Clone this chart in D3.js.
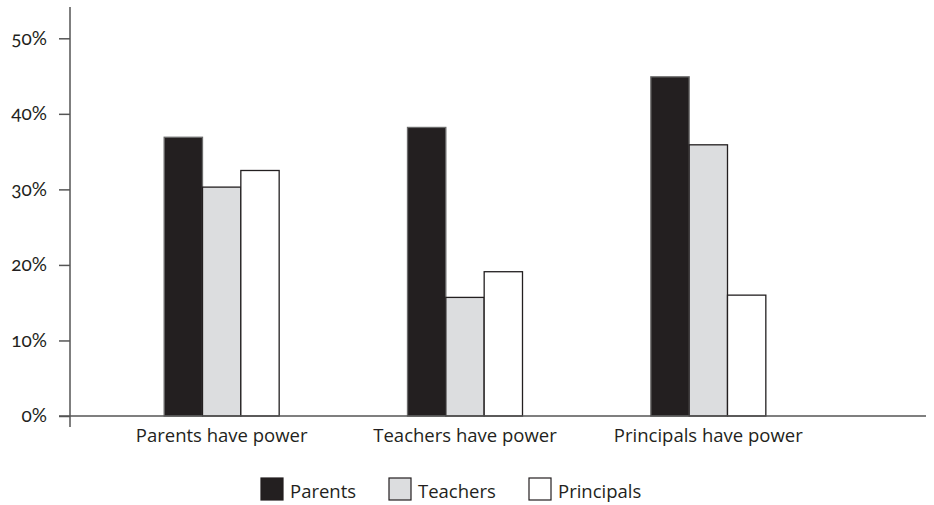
<!DOCTYPE html>
<html>
<head>
<meta charset="utf-8">
<script src="https://cdn.jsdelivr.net/npm/d3@7"></script>
<style>
  html, body { margin: 0; padding: 0; background: #ffffff; }
  svg { display: block; }
  .tick-label { font-family: Lato, "Noto Sans", sans-serif; font-variant-numeric: oldstyle-nums; font-feature-settings: "onum" 1; }
  .cat-label, .legend-label { font-family: "Open Sans", "Noto Sans", sans-serif; }
</style>
</head>
<body>
<svg id="chart" width="934" height="505"></svg>
<script>
const categories = ["Parents have power", "Teachers have power", "Principals have power"];
const seriesNames = ["Parents", "Teachers", "Principals"];
const parentsValues = [36.9, 38.2, 44.9];
const teachersValues = [30.3, 15.7, 35.9];
const principalsValues = [32.5, 19.1, 16.0];
const yTicks = [0, 10, 20, 30, 40, 50];
const seriesColors = ["#231f20", "#dcdddf", "#ffffff"];

const seriesValues = [parentsValues, teachersValues, principalsValues];
const data = categories.map((c, i) => ({
  category: c,
  values: seriesNames.map((s, j) => ({ series: s, value: seriesValues[j][i] }))
}));

const svg = d3.select("#chart");
const axisColor = "#555555";

const x = d3.scaleBand().domain(categories).range([100, 830]);
const groupWidth = 115;
const xInner = d3.scaleBand().domain(seriesNames).range([0, groupWidth]);
const y = d3.scaleLinear().domain([0, 50]).range([416, 38.3]);
const color = d3.scaleOrdinal().domain(seriesNames).range(seriesColors);

// bars
const groups = svg.append("g").selectAll("g")
  .data(data).join("g")
  .attr("transform", d => `translate(${x(d.category) + x.bandwidth() / 2 - groupWidth / 2},0)`);

groups.selectAll("rect")
  .data(d => d.values).join("rect")
  .attr("x", d => xInner(d.series))
  .attr("y", d => y(d.value))
  .attr("width", xInner.bandwidth())
  .attr("height", d => y(0) - y(d.value))
  .attr("fill", d => color(d.series))
  .attr("stroke", d => d.series === "Parents" ? "#6b6b6b" : "#231f20")
  .attr("stroke-width", 1.3);

// y axis
const yAxis = d3.axisLeft(y).tickValues(yTicks).tickFormat(d => d + "%").tickSize(11).tickSizeOuter(0).tickPadding(12);
const gy = svg.append("g").attr("transform", "translate(70,0)").call(yAxis);
gy.select(".domain").remove();
gy.selectAll(".tick line").attr("stroke", axisColor).attr("stroke-width", 1.5);
gy.selectAll(".tick text")
  .attr("class", "tick-label")
  .attr("fill", "#231f20")
  .style("font-size", "19px")
  .attr("dy", "0.3em");
gy.append("line")
  .attr("x1", 0).attr("x2", 0)
  .attr("y1", 7).attr("y2", 427)
  .attr("stroke", axisColor).attr("stroke-width", 1.5);

// x axis baseline
svg.append("line")
  .attr("x1", 59).attr("x2", 926)
  .attr("y1", y(0)).attr("y2", y(0))
  .attr("stroke", axisColor).attr("stroke-width", 1.5);

// category labels
svg.append("g").selectAll("text")
  .data(categories).join("text")
  .attr("class", "cat-label")
  .attr("x", d => x(d) + x.bandwidth() / 2)
  .attr("y", 442)
  .attr("text-anchor", "middle")
  .attr("fill", "#231f20")
  .style("font-size", "18.5px")
  .text(d => d);

// legend
const legendItems = [
  { name: "Parents", sx: 261 },
  { name: "Teachers", sx: 389 },
  { name: "Principals", sx: 529 }
];
const lg = svg.append("g").selectAll("g")
  .data(legendItems).join("g")
  .attr("transform", d => `translate(${d.sx},478)`);
lg.append("rect")
  .attr("width", 22).attr("height", 22)
  .attr("fill", d => color(d.name))
  .attr("stroke", "#231f20").attr("stroke-width", 1.2);
lg.append("text")
  .attr("class", "legend-label")
  .attr("x", 29).attr("y", 20)
  .attr("fill", "#231f20")
  .style("font-size", "18.5px")
  .text(d => d.name);
</script>
</body>
</html>
